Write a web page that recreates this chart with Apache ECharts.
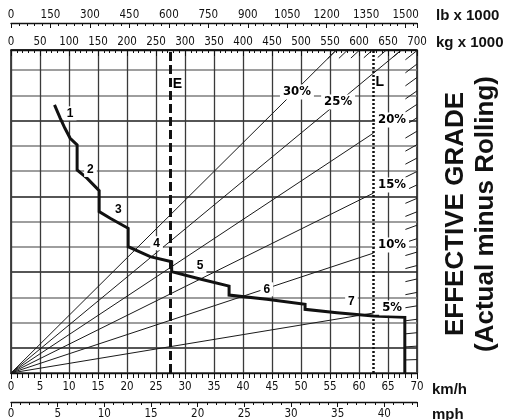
<!DOCTYPE html>
<html><head><meta charset="utf-8">
<script src="https://cdn.jsdelivr.net/npm/echarts@6/dist/echarts.min.js"></script>
<style>html,body{margin:0;padding:0;background:#fff}#c{width:508px;height:420px}</style>
</head><body><div id="c"></div>
<script>
// ---- data ----
const KMH_MAX = 70;
const KG_MAX = 700;
const RIMPULL_MAX = 168.3;        // kg x 1000 at top of chart
const RIMPULL_GRID = RIMPULL_MAX / 12.8;
const EMPTY_WEIGHT = 275;         // E (kg x 1000)
const LOADED_WEIGHT = 625;        // L (kg x 1000)
const MAJOR_GRADES = [5, 10, 15, 20, 25, 30];
const GRADE_TICKS = [1,2,3,4,5,6,7,8,9,10,11,12,13,14,15,16,17,18,19,20,21,22,23,24,25,26,27,28,29,30];
const GEAR_NAMES = ['1','2','3','4','5','6','7'];
const GEAR_SPEED = [[7.5,8.5,9.3,10.2,11.4],[11.4,13.1,15.2],[15.2,17.1,20.2],[20.2,24.0,27.7],[27.7,32.6,37.6],[37.6,44.1,50.7],[50.7,56.2,62.5,67.9]];
const GEAR_RIMPULL = [[139.7,132.7,127.5,122.3,118.8],[105.8,101.5,95.0],[84.1,80.6,75.4],[65.8,60.6,58.0],[52.8,49.0,45.3],[40.6,38.4,35.8],[33.2,31.4,29.7,29.0]];
const GEAR_LABEL_SPEED = [10.2,13.7,18.5,25.1,32.6,44.1,58.7];
const GEAR_LABEL_RIMPULL = [135.3,105.8,84.9,67.6,55.8,43.6,37.2];
const GRADE_LABEL_KG = [657,657,657,657,564,493];
const GRADE_LABEL_RIMPULL = [33.9,66.7,98,131.8,141.2,146.4];

// ---- fonts ----
function hasFont(name) {
  const c = document.createElement('canvas').getContext('2d');
  const s = '0123456789 EFFECTIVE wmli';
  c.font = '20px monospace'; const a = c.measureText(s).width;
  c.font = "20px '" + name + "', monospace"; const b = c.measureText(s).width;
  c.font = '20px serif'; const a2 = c.measureText(s).width;
  c.font = "20px '" + name + "', serif"; const b2 = c.measureText(s).width;
  return a !== b || a2 !== b2;
}
const NARROW_CANDIDATES = ['Liberation Sans Narrow', 'Arial Narrow', 'DejaVu Sans Condensed', 'Roboto Condensed'];
let narrow = null;
for (const f of NARROW_CANDIDATES) { if (hasFont(f)) { narrow = f; break; } }
const FONT = narrow ? "'" + narrow + "',sans-serif" : "'Liberation Sans',Arial,sans-serif";
const TICK_SIZE = narrow ? 11.5 : 10.5;
const BOLD = "'Liberation Sans',Arial,sans-serif";
const INK = '#111';

// ---- build ----
const curve = [];
GEAR_SPEED.forEach((sp, i) => sp.forEach((s, j) => curve.push([s, GEAR_RIMPULL[i][j]])));
const last = curve[curve.length - 1];
curve.push([last[0], 0]);

const gradeSeries = MAJOR_GRADES.map(g => {
  const end = g <= 20 ? LOADED_WEIGHT : KG_MAX;
  return {
    type: 'line', xAxisIndex: 2, yAxisIndex: 0, symbol: 'none', silent: true, clip: true, z: 2,
    lineStyle: {color: '#1a1a1a', width: 1},
    data: [[0, 0], [end, g / 100 * end]]
  };
});

const tickLines = GRADE_TICKS.map(g => {
  const s = g / 100;
  const exitW = Math.min(KG_MAX, RIMPULL_MAX / s);
  const d = exitW < KG_MAX ? 15 : 20;
  const st = exitW - d;
  return {coords: [[st, s * st], [exitW, s * exitW]]};
});

const lbl = (extra) => Object.assign({color: INK, fontSize: TICK_SIZE, fontFamily: FONT}, extra);
const axisBase = (extra) => Object.assign({
  type: 'value',
  axisLine: {show: true, onZero: false, lineStyle: {color: INK, width: 1.3}},
  splitLine: {show: false}
}, extra);

const labelSeries = (xIdx, data, labelStyle) => ({
  type: 'scatter', xAxisIndex: xIdx, yAxisIndex: 0, symbol: 'rect', symbolSize: 1, silent: true, z: 20,
  itemStyle: {color: '#ffffff', opacity: 1},
  label: Object.assign({show: true, position: 'inside', formatter: p => p.value[2],
    color: '#000', opacity: 1, textBorderWidth: 0}, labelStyle),
  emphasis: {disabled: true},
  data: data
});

const option = {
  animation: false,
  backgroundColor: '#fff',
  grid: {left: 11, right: 91, top: 50, bottom: 47, show: true, borderColor: INK, borderWidth: 1.5},
  xAxis: [
    axisBase({position: 'bottom', min: 0, max: KMH_MAX, interval: 5,
      axisLabel: lbl({margin: 8}),
      axisTick: {show: true, length: 6, inside: false, lineStyle: {color: INK}},
      minorTick: {show: true, splitNumber: 5, length: 5, lineStyle: {color: INK}},
      splitLine: {show: true, lineStyle: {color: '#3a3a3a', width: 1.3}}}),
    axisBase({position: 'bottom', offset: 29, min: 0, max: KMH_MAX / 1.609344, interval: 5,
      axisLabel: lbl({margin: 6, formatter: v => (Math.abs(v % 5) < 1e-6 ? String(v) : '')}),
      axisTick: {show: true, length: 5, inside: false, lineStyle: {color: INK}},
      minorTick: {show: true, splitNumber: 5, length: 3, lineStyle: {color: INK}}}),
    axisBase({position: 'top', min: 0, max: KG_MAX, interval: 50,
      axisLabel: lbl({margin: 2}),
      axisTick: {show: true, length: 6, inside: true, lineStyle: {color: INK}},
      minorTick: {show: true, splitNumber: 5, length: 3, lineStyle: {color: INK}}}),
    axisBase({position: 'top', offset: 27, min: 0, max: KG_MAX / 0.45359237, interval: 150,
      axisLabel: lbl({margin: 2, formatter: v => (Math.abs(v % 150) < 1e-6 ? String(v) : '')}),
      axisTick: {show: true, length: 5, inside: true, lineStyle: {color: INK}},
      minorTick: {show: true, splitNumber: 5, length: 3, lineStyle: {color: INK}}})
  ],
  yAxis: [{
    type: 'value', min: 0, max: RIMPULL_MAX, interval: RIMPULL_GRID,
    axisLine: {show: false}, axisTick: {show: false}, axisLabel: {show: false},
    splitLine: {show: true, lineStyle: {color: ['#7e7e7e', '#1e1e1e', '#7e7e7e'], width: 1.7}}
  }],
  series: [
    ...gradeSeries,
    {type: 'lines', coordinateSystem: 'cartesian2d', xAxisIndex: 2, yAxisIndex: 0, silent: true, z: 2,
      lineStyle: {color: '#1a1a1a', width: 1, opacity: 1}, data: tickLines},
    {type: 'line', xAxisIndex: 2, yAxisIndex: 0, symbol: 'none', silent: true, z: 6,
      lineStyle: {color: INK, width: 3, type: [9, 4]},
      data: [[EMPTY_WEIGHT, 0], [EMPTY_WEIGHT, RIMPULL_MAX]]},
    {type: 'line', xAxisIndex: 2, yAxisIndex: 0, symbol: 'none', silent: true, z: 6,
      lineStyle: {color: INK, width: 2.5, type: [2, 2]},
      data: [[LOADED_WEIGHT, 0], [LOADED_WEIGHT, RIMPULL_MAX]]},
    {type: 'line', xAxisIndex: 0, yAxisIndex: 0, symbol: 'none', silent: true, z: 8,
      lineStyle: {color: INK, width: 3, join: 'miter'}, data: curve},
    labelSeries(0, GEAR_NAMES.map((n, i) => [GEAR_LABEL_SPEED[i], GEAR_LABEL_RIMPULL[i], n]),
      {fontFamily: BOLD, fontWeight: 'bold', fontSize: 12, backgroundColor: '#fff', padding: [1, 3]}),
    labelSeries(2, MAJOR_GRADES.map((g, i) => [GRADE_LABEL_KG[i], GRADE_LABEL_RIMPULL[i], g + '%']),
      {fontFamily: narrow ? FONT : BOLD, fontWeight: 'bold', fontSize: narrow ? 13 : 12, backgroundColor: '#fff', padding: [1, 3]}),
    labelSeries(2, [[EMPTY_WEIGHT + 12, 150.6, 'E'], [LOADED_WEIGHT + 11, 151.8, 'L']],
      {fontFamily: BOLD, fontWeight: 'bold', fontSize: 14})
  ],
  graphic: [
    {type: 'text', x: 436, y: 16, style: {text: 'lb x 1000', font: 'bold 15px ' + BOLD, fill: INK, align: 'left', verticalAlign: 'middle', textAlign: 'left', textVerticalAlign: 'middle'}},
    {type: 'text', x: 436, y: 43, style: {text: 'kg x 1000', font: 'bold 15px ' + BOLD, fill: INK, align: 'left', verticalAlign: 'middle', textAlign: 'left', textVerticalAlign: 'middle'}},
    {type: 'text', x: 432, y: 390, style: {text: 'km/h', font: 'bold 15px ' + BOLD, fill: INK, align: 'left', verticalAlign: 'middle', textAlign: 'left', textVerticalAlign: 'middle'}},
    {type: 'text', x: 432, y: 415, style: {text: 'mph', font: 'bold 15px ' + BOLD, fill: INK, align: 'left', verticalAlign: 'middle', textAlign: 'left', textVerticalAlign: 'middle'}},
    {type: 'text', x: 456, y: 214, rotation: Math.PI / 2, style: {text: 'EFFECTIVE GRADE', font: 'bold 26px ' + BOLD, fill: INK, align: 'center', verticalAlign: 'middle', textAlign: 'center', textVerticalAlign: 'middle'}},
    {type: 'text', x: 486, y: 214, rotation: Math.PI / 2, style: {text: '(Actual minus Rolling)', font: 'bold 26px ' + BOLD, fill: INK, align: 'center', verticalAlign: 'middle', textAlign: 'center', textVerticalAlign: 'middle'}}
  ]
};

const chart = echarts.init(document.getElementById('c'), null, {renderer: 'canvas'});
chart.setOption(option);
</script>
</body></html>
